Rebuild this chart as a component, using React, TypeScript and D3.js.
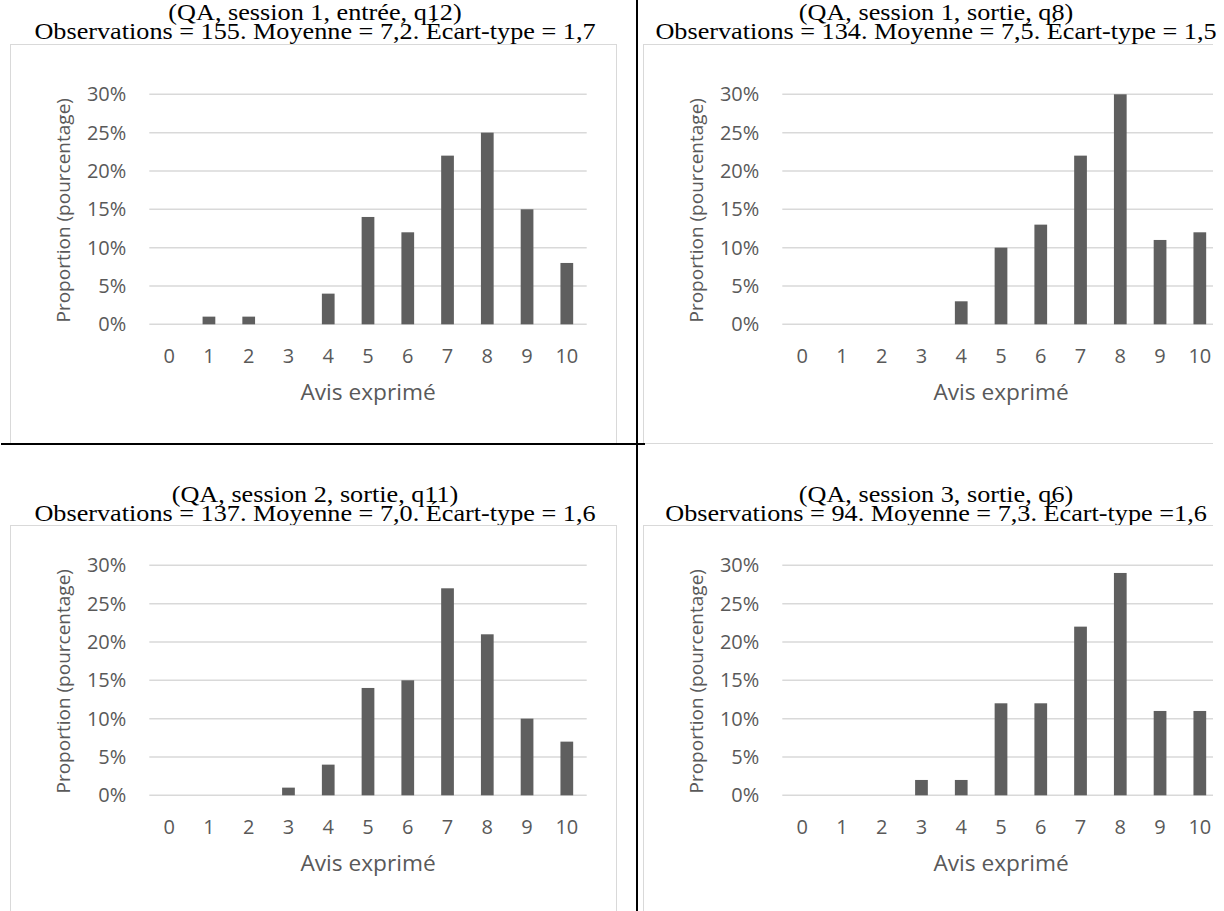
import React from "react";
import * as d3 from "d3";

// ---- data ----
const categories = ["0", "1", "2", "3", "4", "5", "6", "7", "8", "9", "10"];
const yTicks = [0, 5, 10, 15, 20, 25, 30];

const titles = [
  "(QA, session 1, entrée, q12)",
  "(QA, session 1, sortie, q8)",
  "(QA, session 2, sortie, q11)",
  "(QA, session 3, sortie, q6)",
];
const subtitles = [
  "Observations = 155. Moyenne = 7,2. Écart-type = 1,7",
  "Observations = 134. Moyenne = 7,5. Écart-type = 1,5",
  "Observations = 137. Moyenne = 7,0. Écart-type = 1,6",
  "Observations = 94. Moyenne = 7,3. Écart-type =1,6",
];

const session1Entree = [0, 1, 1, 0, 4, 14, 12, 22, 25, 15, 8];
const session1Sortie = [0, 0, 0, 0, 3, 10, 13, 22, 30, 11, 12];
const session2Sortie = [0, 0, 0, 1, 4, 14, 15, 27, 21, 10, 7];
const session3Sortie = [0, 0, 0, 2, 2, 12, 12, 22, 29, 11, 11];

const seriesList = [session1Entree, session1Sortie, session2Sortie, session3Sortie];

const xLabel = "Avis exprimé";
const yLabel = "Proportion (pourcentage)";

// ---- layout ----
const W = 1224;
const H = 911;
const panels = [
  { cx: 315, boxX: 10, boxY: 44, boxW: 606, boxH: 399, titleY: 20, plotTop: 94.3, clip: false },
  { cx: 936, boxX: 643, boxY: 44, boxW: 606, boxH: 399, titleY: 20, plotTop: 94.3, clip: true },
  { cx: 315, boxX: 10, boxY: 525, boxW: 606, boxH: 420, titleY: 502, plotTop: 565.3, clip: false },
  { cx: 936, boxX: 643, boxY: 525, boxW: 606, boxH: 420, titleY: 502, plotTop: 565.3, clip: true },
];

const AXIS_FONT = "'Open Sans', 'Noto Sans', sans-serif";
const TITLE_FONT = "'Liberation Serif', 'Times New Roman', serif";
const TEXT = "#595959";
const GRID = "#d9d9d9";
const BAR = "#5f5f5f";

function Panel({ idx }: { idx: number }) {
  const p = panels[idx];
  const values = seriesList[idx];
  const plotLeft = p.boxX + 139.3;
  const plotRight = plotLeft + 437.4;
  const plotBottom = p.plotTop + 230;
  const pad = 0.68;
  const x = d3
    .scaleBand<string>()
    .domain(categories)
    .range([plotLeft, plotRight])
    .paddingInner(pad)
    .paddingOuter(pad / 2);
  const y = d3.scaleLinear().domain([0, 30]).range([plotBottom, p.plotTop]);
  const clipId = `clip-${idx}`;
  return (
    <g>
      <text
        transform={`translate(${p.cx}, ${p.titleY}) scale(1.14, 1)`}
        textAnchor="middle"
        fontFamily={TITLE_FONT}
        fontSize={23}
        fill="#000"
      >
        {titles[idx]}
      </text>
      <text
        transform={`translate(${p.cx}, ${p.titleY + 18.5}) scale(1.14, 1)`}
        textAnchor="middle"
        fontFamily={TITLE_FONT}
        fontSize={23}
        fill="#000"
      >
        {subtitles[idx]}
      </text>
      <defs>
        <clipPath id={clipId}>
          <rect x={0} y={0} width={p.clip ? 1213 : W} height={H} />
        </clipPath>
      </defs>
      <g clipPath={`url(#${clipId})`}>
        <rect
          x={p.boxX + 0.5}
          y={p.boxY + 0.5}
          width={p.boxW}
          height={p.boxH}
          fill="none"
          stroke={GRID}
          strokeWidth={1}
        />
        {yTicks.map((t) => (
          <line
            key={`g${t}`}
            x1={plotLeft}
            x2={plotRight}
            y1={y(t)}
            y2={y(t)}
            stroke={GRID}
            strokeWidth={1.5}
          />
        ))}
        {values.map((v, i) =>
          v > 0 ? (
            <rect
              key={`b${i}`}
              x={x(categories[i])}
              y={y(v)}
              width={x.bandwidth()}
              height={y(0) - y(v)}
              fill={BAR}
            />
          ) : null
        )}
        {yTicks.map((t) => (
          <text
            key={`yl${t}`}
            x={plotLeft - 23}
            y={y(t)}
            dy="0.35em"
            textAnchor="end"
            fontFamily={AXIS_FONT}
            fontSize={20}
            fill={TEXT}
          >
            {`${t}%`}
          </text>
        ))}
        {categories.map((c) => (
          <text
            key={`xl${c}`}
            x={(x(c) as number) + x.bandwidth() / 2}
            y={plotBottom + 39}
            textAnchor="middle"
            fontFamily={AXIS_FONT}
            fontSize={20}
            fill={TEXT}
          >
            {c}
          </text>
        ))}
        <text
          transform={`translate(${(plotLeft + plotRight) / 2}, ${plotBottom + 76}) scale(1.08, 1)`}
          textAnchor="middle"
          fontFamily={AXIS_FONT}
          fontSize={21}
          fill={TEXT}
        >
          {xLabel}
        </text>
        <text
          transform={`translate(${plotLeft - 79}, ${(p.plotTop + plotBottom) / 2 + 1}) rotate(-90)`}
          textAnchor="middle"
          fontFamily={AXIS_FONT}
          fontSize={19}
          fill={TEXT}
        >
          {yLabel}
        </text>
      </g>
    </g>
  );
}

export default function App() {
  return (
    <svg
      width={W}
      height={H}
      viewBox={`0 0 ${W} ${H}`}
      style={{ position: "absolute", left: 0, top: 0, background: "#fff" }}
    >
      <rect x={0} y={0} width={W} height={H} fill="#fff" />
      {panels.map((_, i) => (
        <Panel key={i} idx={i} />
      ))}
      <line x1={637} x2={637} y1={0} y2={H} stroke="#000" strokeWidth={2} />
      <line x1={1} x2={645} y1={444} y2={444} stroke="#000" strokeWidth={2} />
    </svg>
  );
}
